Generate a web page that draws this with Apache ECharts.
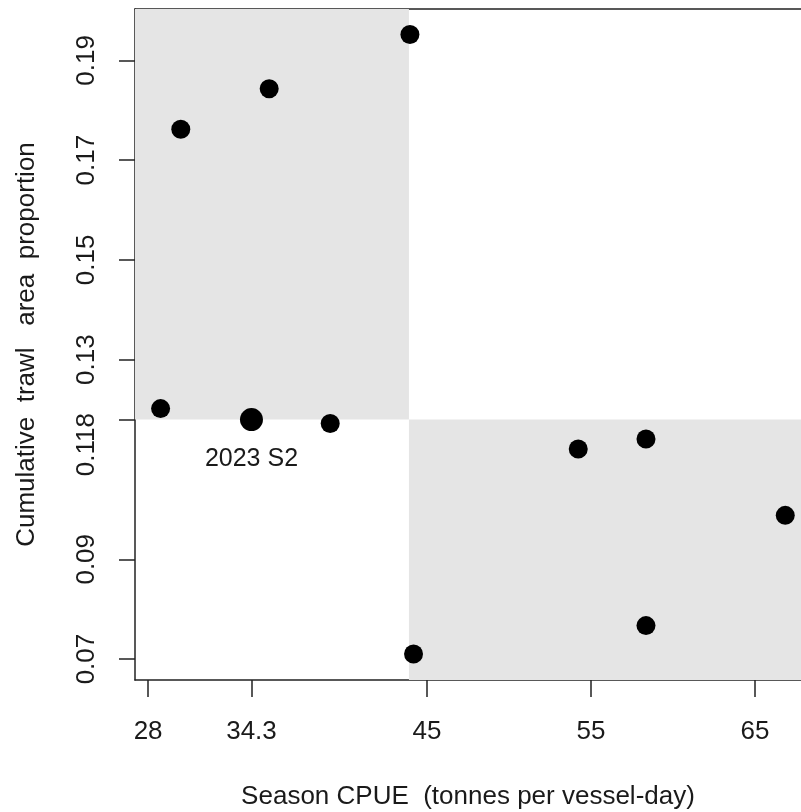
<!DOCTYPE html>
<html>
<head>
<meta charset="utf-8">
<script src="https://cdn.jsdelivr.net/npm/echarts@6/dist/echarts.min.js"></script>
<style>
html,body{margin:0;padding:0;background:#fff;}
#chart{width:801px;height:812px;}
</style>
</head>
<body>
<div id="chart"></div>
<script>
// ---- data ----
const cpue = [43.96, 29.99, 35.38, 28.76, 39.10, 54.22, 58.35, 66.84, 58.35, 44.18];
const trawlProp = [0.1952, 0.1762, 0.1843, 0.1202, 0.1172, 0.1121, 0.1141, 0.0988, 0.0767, 0.0710];
const currentCpue = [34.3];
const currentProp = [0.118];
const currentLabel = "2023 S2";
const xTicks = [28, 34.3, 45, 55, 65];
const yTicks = [0.07, 0.09, 0.118, 0.13, 0.15, 0.17, 0.19];
const splitX = 43.9;
const splitY = 0.118;
const xRange = [27.2, 67.8];
const yRange = [0.0658, 0.2003];
const xTitle = "Season CPUE  (tonnes per vessel-day)";
const yTitle = "Cumulative  trawl   area  proportion";

const font = "'Liberation Sans', Arial, sans-serif";
const chart = echarts.init(document.getElementById('chart'), null, {renderer: 'canvas'});

const pts = cpue.map((x, i) => [x, trawlProp[i]]);
const cur = currentCpue.map((x, i) => [x, currentProp[i]]);

const option = {
  animation: false,
  backgroundColor: '#ffffff',
  grid: {left: 135, right: 0, top: 9, bottom: 132, containLabel: false, outerBoundsMode: 'none'},
  xAxis: [{
    type: 'value', position: 'bottom',
    min: xRange[0], max: xRange[1],
    name: xTitle, nameLocation: 'middle', nameGap: 104,
    nameTextStyle: {fontFamily: font, fontSize: 26, color: '#1a1a1a'},
    axisLine: {show: true, onZero: false, lineStyle: {color: '#222', width: 1.5}},
    axisTick: {show: true, length: 17, customValues: xTicks, lineStyle: {color: '#222', width: 1.5}},
    axisLabel: {show: true, customValues: xTicks, margin: 39, fontFamily: font, fontSize: 26, color: '#1a1a1a',
      formatter: v => String(v)},
    splitLine: {show: false}
  }, {
    type: 'value', position: 'top',
    min: xRange[0], max: xRange[1],
    axisLine: {show: true, onZero: false, lineStyle: {color: '#222', width: 1.5}},
    axisTick: {show: false}, axisLabel: {show: false}, splitLine: {show: false}
  }],
  yAxis: {
    type: 'value', min: yRange[0], max: yRange[1],
    name: yTitle, nameLocation: 'middle', nameGap: 95, nameRotate: 90,
    nameTextStyle: {fontFamily: font, fontSize: 26, color: '#1a1a1a'},
    axisLine: {show: true, onZero: false, lineStyle: {color: '#222', width: 1.5}},
    axisTick: {show: true, length: 16, customValues: yTicks, lineStyle: {color: '#222', width: 1.5}},
    axisLabel: {show: true, customValues: yTicks, rotate: 90, margin: 35, fontFamily: font, fontSize: 26, color: '#1a1a1a',
      formatter: v => (v === splitY ? '{d|' + String(v) + '}' : String(v)),
      rich: {d: {fontFamily: font, fontSize: 26, color: '#1a1a1a', padding: [0, 50, 0, 0]}}},
    splitLine: {show: false}
  },
  series: [{
    type: 'scatter', data: [], z: 1, silent: true,
    markArea: {
      silent: true,
      itemStyle: {color: '#e5e5e5', opacity: 1},
      data: [
        [{coord: [xRange[0], splitY]}, {coord: [splitX, yRange[1]]}],
        [{coord: [splitX, yRange[0]]}, {coord: [xRange[1], splitY]}]
      ]
    }
  }, {
    type: 'scatter', data: pts, z: 3, symbol: 'circle', symbolSize: 19,
    itemStyle: {color: '#000', opacity: 1}
  }, {
    type: 'scatter', data: cur, z: 3, symbol: 'circle', symbolSize: 23,
    itemStyle: {color: '#000', opacity: 1},
    label: {show: true, position: 'bottom', distance: 16, formatter: currentLabel,
      fontFamily: font, fontSize: 25, color: '#1a1a1a'}
  }]
};
chart.setOption(option);
</script>
</body>
</html>
